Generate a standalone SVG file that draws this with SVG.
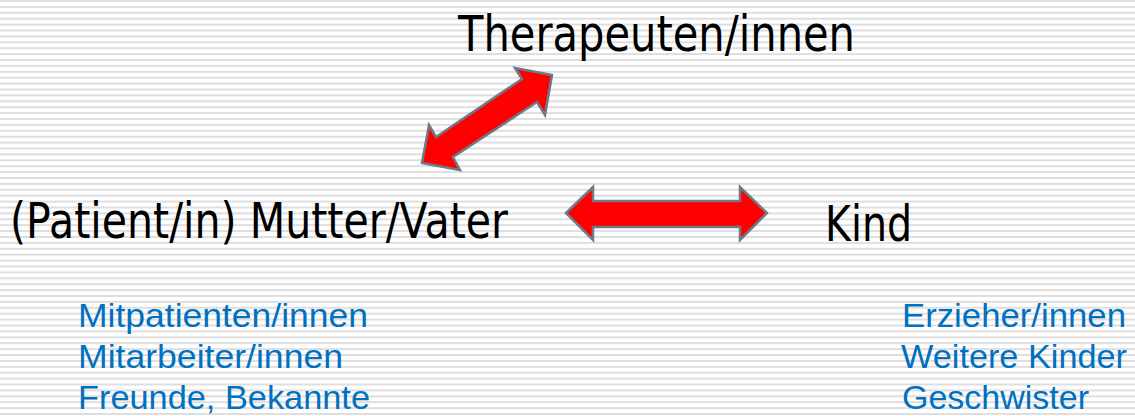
<svg xmlns="http://www.w3.org/2000/svg" width="1135" height="416" viewBox="0 0 1135 416">
<defs>
<pattern id="stripes" x="0" y="0" width="20" height="5.9" patternUnits="userSpaceOnUse">
<rect x="0" y="0" width="20" height="2" fill="#dedede"/>
</pattern>
<style>
.main{font-family:"DejaVu Sans","Liberation Sans",sans-serif;font-size:49px;fill:#000}
.sub{font-family:"Liberation Sans","DejaVu Sans",sans-serif;font-size:34px;fill:#0070c0}
.arrow{fill:#ff0000;stroke:#6e7a88;stroke-width:2.5;stroke-linejoin:miter}
</style>
</defs>
<rect width="1135" height="416" fill="#ffffff"/>
<rect width="1135" height="416" fill="url(#stripes)"/>
<g id="connectors">
<polygon class="arrow" points="552,75 545,115 537,102 453,157 460,170 422,163 429,125 436,137 522,79 515,68"/>
<polygon class="arrow" points="566,213 593,187 593,201 740,201 740,187 767,213 740,240 740,227 593,227 593,240"/>
</g>
<g id="therapeuten">
<text class="main" x="458" y="51" textLength="397" lengthAdjust="spacingAndGlyphs">Therapeuten/innen</text>
</g>
<g id="eltern">
<text class="main" x="10" y="238" textLength="498" lengthAdjust="spacingAndGlyphs">(Patient/in) Mutter/Vater</text>
</g>
<g id="kind">
<text class="main" x="825" y="241" textLength="87" lengthAdjust="spacingAndGlyphs">Kind</text>
</g>
<g id="umfeld-eltern">
<text class="sub" x="78" y="327" textLength="290" lengthAdjust="spacingAndGlyphs">Mitpatienten/innen</text>
<text class="sub" x="78" y="368" textLength="265" lengthAdjust="spacingAndGlyphs">Mitarbeiter/innen</text>
<text class="sub" x="78" y="409" textLength="292" lengthAdjust="spacingAndGlyphs">Freunde, Bekannte</text>
</g>
<g id="umfeld-kind">
<text class="sub" x="902" y="327" textLength="224" lengthAdjust="spacingAndGlyphs">Erzieher/innen</text>
<text class="sub" x="901" y="368" textLength="226" lengthAdjust="spacingAndGlyphs">Weitere Kinder</text>
<text class="sub" x="902" y="409" textLength="187" lengthAdjust="spacingAndGlyphs">Geschwister</text>
</g>
</svg>
